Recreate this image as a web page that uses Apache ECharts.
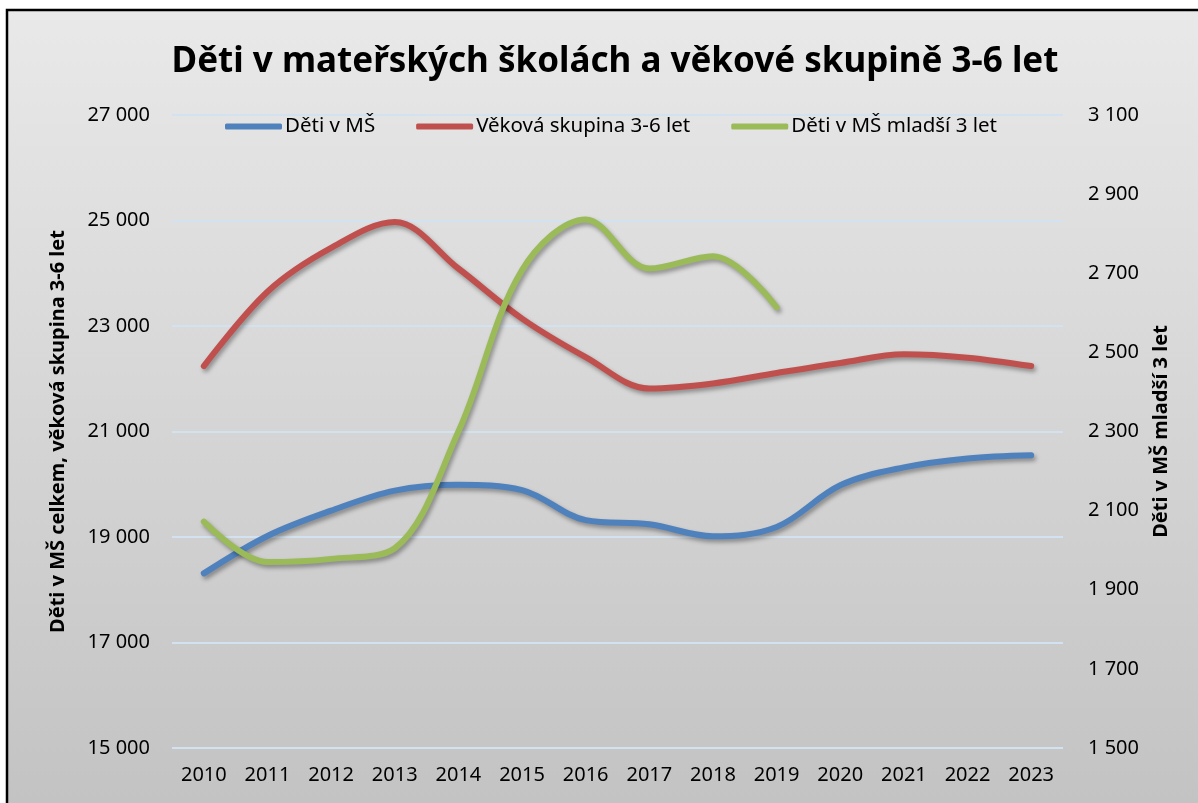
<!DOCTYPE html>
<html lang="cs">
<head>
    <meta charset="UTF-8">
    <title>Děti v mateřských školách</title>
    <script src="https://cdn.jsdelivr.net/npm/echarts@6/dist/echarts.min.js"></script>
    <style>
        html, body { margin: 0; padding: 0; background: #fff; overflow: hidden; }
    </style>
</head>
<body>
<div id="main" style="width: 1198px;height:803px;"></div>
</body>
<script type="text/javascript">
    // data
    var roky = ['2010', '2011', '2012', '2013', '2014', '2015', '2016', '2017', '2018', '2019', '2020', '2021', '2022', '2023'];
    var detiMS = [18310, 19020, 19500, 19880, 19990, 19890, 19320, 19240, 19015, 19190, 19980, 20320, 20490, 20550];
    var vekovaSkupina = [22240, 23650, 24480, 24970, 24090, 23140, 22410, 21815, 21910, 22110, 22300, 22465, 22400, 22240];
    var detiMladsi = [2072, 1970, 1978, 2005, 2300, 2708, 2836, 2712, 2743, 2614];

    var font = '"Noto Sans", "DejaVu Sans", sans-serif';

    function fmt(v) {
        return String(v).replace(/\B(?=(\d{3})+(?!\d))/g, ' ');
    }

    var myChart = echarts.init(document.getElementById('main'));

    var shadow = {
        shadowColor: 'rgba(0,0,0,0.35)',
        shadowBlur: 4,
        shadowOffsetX: 2,
        shadowOffsetY: 3
    };

    var option = {
        animation: false,
        textStyle: { fontFamily: font },
        graphic: [{
            type: 'rect',
            silent: true,
            z: -10,
            shape: { x: 7, y: 10, width: 1300, height: 900 },
            style: {
                fill: new echarts.graphic.LinearGradient(0, 10, 0, 803, [
                    { offset: 0, color: '#e9e9e9' },
                    { offset: 1, color: '#c3c3c3' }
                ], true),
                stroke: '#000',
                lineWidth: 2.5
            }
        }],
        title: {
            text: 'Děti v mateřských školách a věkové skupině 3-6 let',
            left: 610,
            textAlign: 'center',
            top: 40,
            textStyle: { fontFamily: font, fontSize: 35, fontWeight: 'bold', color: '#000' }
        },
        legend: {
            left: 220,
            top: 111,
            icon: 'roundRect',
            itemWidth: 57,
            itemHeight: 6,
            itemGap: 41,
            textStyle: { fontFamily: font, fontSize: 20.5, color: '#000', padding: [0, 0, 0, -2] },
            data: ['Děti v MŠ', 'Věková skupina 3-6 let', 'Děti v MŠ mladší 3 let']
        },
        grid: { left: 172, right: 135, top: 115, bottom: 55 },
        xAxis: {
            type: 'category',
            data: roky,
            boundaryGap: true,
            axisLine: { show: false },
            axisTick: { show: false },
            axisLabel: { fontFamily: font, fontSize: 20, color: '#000', margin: 17 }
        },
        yAxis: [{
            type: 'value',
            min: 15000,
            max: 27000,
            interval: 2000,
            name: 'Děti v MŠ celkem, věková skupina 3-6 let',
            nameLocation: 'middle',
            nameRotate: 90,
            nameGap: 104,
            nameTextStyle: { fontFamily: font, fontSize: 20, fontWeight: 'bold', color: '#000' },
            axisLine: { show: false },
            axisTick: { show: false },
            axisLabel: { fontFamily: font, fontSize: 20, color: '#000', margin: 22, formatter: fmt },
            splitLine: { lineStyle: { color: '#d3e2f1', width: 2 } }
        }, {
            type: 'value',
            min: 1500,
            max: 3100,
            interval: 200,
            name: 'Děti v MŠ mladší 3 let',
            nameLocation: 'middle',
            nameRotate: 90,
            nameGap: 88,
            nameTextStyle: { fontFamily: font, fontSize: 20, fontWeight: 'bold', color: '#000' },
            axisLine: { show: false },
            axisTick: { show: false },
            axisLabel: { fontFamily: font, fontSize: 20, color: '#000', margin: 25, formatter: fmt },
            splitLine: { show: false }
        }],
        series: [{
            name: 'Děti v MŠ',
            type: 'line',
            data: detiMS,
            smooth: 0.35,
            symbol: 'none',
            color: '#4f81bd',
            lineStyle: Object.assign({ width: 6, color: '#4f81bd', cap: 'round' }, shadow)
        }, {
            name: 'Věková skupina 3-6 let',
            type: 'line',
            data: vekovaSkupina,
            smooth: 0.35,
            symbol: 'none',
            color: '#c0504d',
            lineStyle: Object.assign({ width: 6, color: '#c0504d', cap: 'round' }, shadow)
        }, {
            name: 'Děti v MŠ mladší 3 let',
            type: 'line',
            yAxisIndex: 1,
            data: detiMladsi,
            smooth: 0.35,
            symbol: 'none',
            color: '#9bbb59',
            lineStyle: Object.assign({ width: 6, color: '#9bbb59', cap: 'round' }, shadow)
        }]
    };

    myChart.setOption(option);
</script>
</html>
